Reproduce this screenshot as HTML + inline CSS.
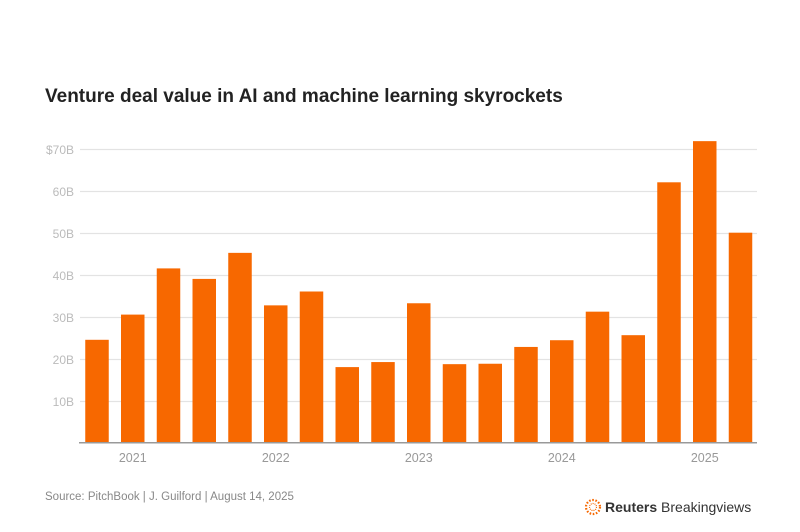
<!DOCTYPE html>
<html><head><meta charset="utf-8"><style>
body{margin:0;background:#fff;}
svg{display:block;font-family:"Liberation Sans",sans-serif;}
</style></head><body>
<svg width="800" height="532" viewBox="0 0 800 532">
<rect width="800" height="532" fill="#fff"/>
<text x="45" y="102" font-size="19" font-weight="bold" fill="#222">Venture deal value in AI and machine learning skyrockets</text>
<g stroke="#e3e3e3" stroke-width="1.3">
<line x1="80" x2="757" y1="149.5" y2="149.5"/>
<line x1="80" x2="757" y1="191.5" y2="191.5"/>
<line x1="80" x2="757" y1="233.5" y2="233.5"/>
<line x1="80" x2="757" y1="275.5" y2="275.5"/>
<line x1="80" x2="757" y1="317.5" y2="317.5"/>
<line x1="80" x2="757" y1="359.5" y2="359.5"/>
<line x1="80" x2="757" y1="401.5" y2="401.5"/>
</g>
<g font-size="12" fill="#bbb" text-anchor="end">
<text x="74" y="154">$70B</text>
<text x="74" y="196">60B</text>
<text x="74" y="238">50B</text>
<text x="74" y="280">40B</text>
<text x="74" y="322">30B</text>
<text x="74" y="364">20B</text>
<text x="74" y="406">10B</text>
</g>
<g fill="#f76800">
<rect x="85.25" y="339.8" width="23.5" height="102.9"/>
<rect x="121" y="314.6" width="23.5" height="128.1"/>
<rect x="156.75" y="268.4" width="23.5" height="174.3"/>
<rect x="192.5" y="278.9" width="23.5" height="163.8"/>
<rect x="228.25" y="252.86" width="23.5" height="189.84"/>
<rect x="264" y="305.36" width="23.5" height="137.34"/>
<rect x="299.75" y="291.5" width="23.5" height="151.2"/>
<rect x="335.5" y="367.1" width="23.5" height="75.6"/>
<rect x="371.25" y="362.06" width="23.5" height="80.64"/>
<rect x="407" y="303.26" width="23.5" height="139.44"/>
<rect x="442.75" y="364.16" width="23.5" height="78.54"/>
<rect x="478.5" y="363.74" width="23.5" height="78.96"/>
<rect x="514.25" y="346.94" width="23.5" height="95.76"/>
<rect x="550" y="340.22" width="23.5" height="102.48"/>
<rect x="585.75" y="311.66" width="23.5" height="131.04"/>
<rect x="621.5" y="335.18" width="23.5" height="107.52"/>
<rect x="657.25" y="182.3" width="23.5" height="260.4"/>
<rect x="693" y="141.14" width="23.5" height="301.56"/>
<rect x="728.75" y="232.7" width="23.5" height="210"/>
</g>
<line x1="79" x2="757" y1="442.7" y2="442.7" stroke="#999" stroke-width="1.5"/>
<g font-size="12.5" fill="#999" text-anchor="middle">
<text x="132.75" y="462">2021</text>
<text x="275.75" y="462">2022</text>
<text x="418.75" y="462">2023</text>
<text x="561.75" y="462">2024</text>
<text x="704.75" y="462">2025</text>
</g>
<text x="45" y="500" font-size="11.5" fill="#888">Source: PitchBook | J. Guilford | August 14, 2025</text>
<circle cx="593" cy="507" r="7" fill="none" stroke="#f76800" stroke-width="2.2" stroke-dasharray="1.6 1.6"/>
<circle cx="593" cy="507" r="3.5" fill="none" stroke="#f76800" stroke-width="1.2" stroke-dasharray="1 1"/>
<text x="605" y="512" font-size="14" fill="#333"><tspan font-weight="bold">Reuters</tspan> Breakingviews</text>
</svg>
</body></html>
